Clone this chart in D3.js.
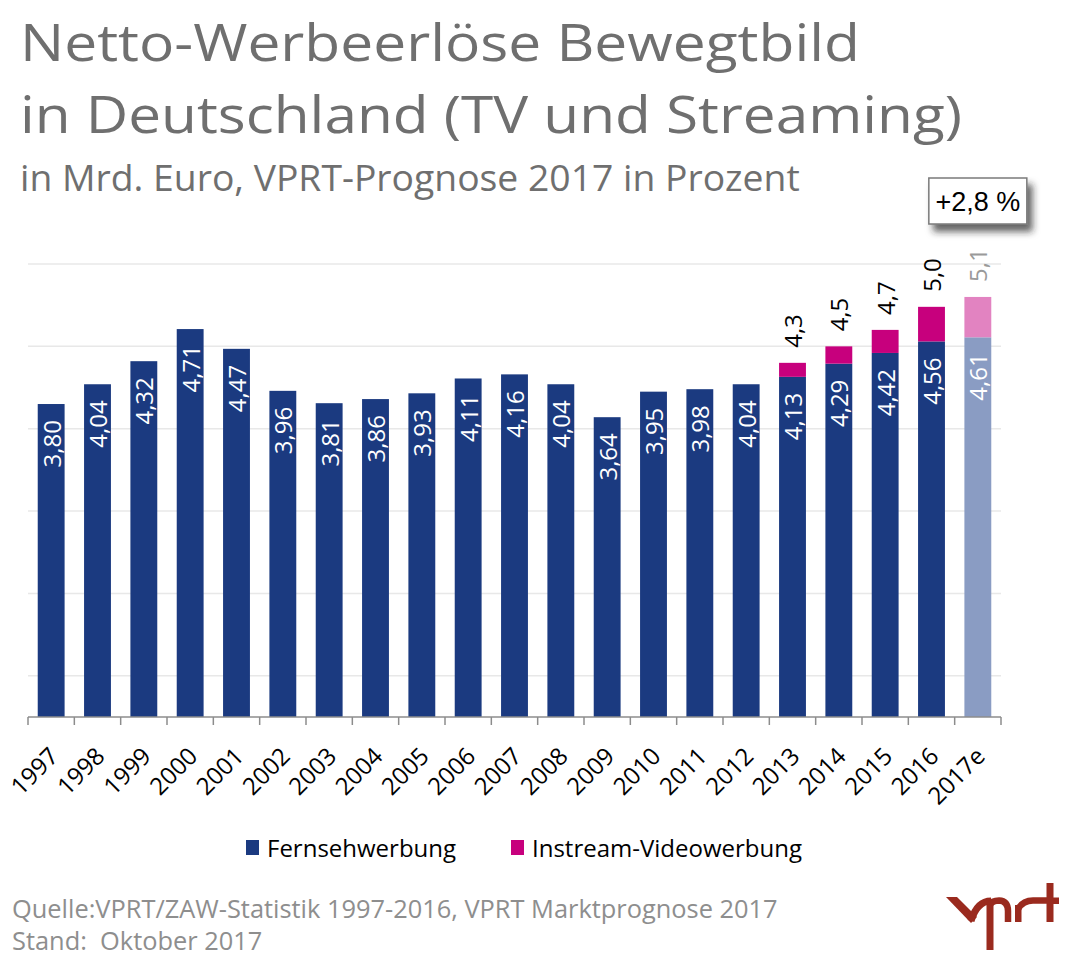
<!DOCTYPE html>
<html>
<head>
<meta charset="utf-8">
<script src="https://cdn.jsdelivr.net/npm/d3@7"></script>
<style>
  html, body { margin: 0; padding: 0; background: #fff; }
  svg { display: block; font-family: "Open Sans", "DejaVu Sans", sans-serif; }
</style>
</head>
<body>
<svg id="chart" width="1071" height="962"></svg>
<script>
// ---- data ----
const years = ['1997','1998','1999','2000','2001','2002','2003','2004','2005','2006','2007',
               '2008','2009','2010','2011','2012','2013','2014','2015','2016','2017e'];
const fernsehwerbung = [3.80,4.04,4.32,4.71,4.47,3.96,3.81,3.86,3.93,4.11,4.16,
                        4.04,3.64,3.95,3.98,4.04,4.13,4.29,4.42,4.56,4.61];
const instreamVideo = [0,0,0,0,0,0,0,0,0,0,0,0,0,0,0,0,0.17,0.21,0.28,0.42,0.49];
const totalLabels = ['','','','','','','','','','','','','','','','','4,3','4,5','4,7','5,0','5,1'];
const gridValues = [0.5,1.5,2.5,3.5,4.5,5.5];
const seriesNames = ['Fernsehwerbung','Instream-Videowerbung'];
const forecastYear = '2017e';
const forecastChange = '+2,8 %';

const titleLines = ['Netto-Werbeerlöse Bewegtbild','in Deutschland (TV und Streaming)'];
const subtitle = 'in Mrd. Euro, VPRT-Prognose 2017 in Prozent';
const sourceLines = ['Quelle:VPRT/ZAW-Statistik 1997-2016, VPRT Marktprognose 2017','Stand:  Oktober 2017'];

// ---- styles ----
const C = {
  blue: '#1b3a80', pink: '#c7007d',
  blueF: '#8a9cc3', pinkF: '#e283c1',
  grid: '#e8e8e8', axis: '#8c8c8c', title: '#6f6f6f', source: '#8e8e8e', logo: '#9a2a1e'
};

const svg = d3.select('#chart');
const rows = years.map((y,i) => ({year: y, tv: fernsehwerbung[i], video: instreamVideo[i], label: totalLabels[i]}));

const x = d3.scaleBand().domain(years).range([28, 1001]).paddingInner(0.42).paddingOuter(0.21);
const y = d3.scaleLinear().domain([0, 5.5]).range([717, 264]);

function fitSize(node, fs, target) {
  const w = node.getComputedTextLength();
  return fs * target / w;
}

// ---- title ----
svg.append('text').attr('x', 20).attr('y', 61).attr('font-size', 52).attr('fill', C.title)
  .attr('textLength', 840).attr('lengthAdjust', 'spacingAndGlyphs').text(titleLines[0]);
svg.append('text').attr('x', 20).attr('y', 133).attr('font-size', 52).attr('fill', C.title)
  .attr('textLength', 942).attr('lengthAdjust', 'spacingAndGlyphs').text(titleLines[1]);
const st = svg.append('text').attr('x', 20).attr('y', 191).attr('font-size', 28).attr('fill', C.title).text(subtitle);
st.attr('font-size', fitSize(st.node(), 28, 780).toFixed(2));

// ---- grid ----
svg.append('g').selectAll('line').data(gridValues).join('line')
  .attr('x1', 28).attr('x2', 1001)
  .attr('y1', d => y(d)).attr('y2', d => y(d))
  .attr('stroke', C.grid).attr('stroke-width', 1.5);

// ---- bars ----
const isF = d => d.year === forecastYear;
const bars = svg.append('g');
bars.selectAll('rect.tv').data(rows).join('rect').attr('class','tv')
  .attr('x', d => x(d.year)).attr('width', x.bandwidth())
  .attr('y', d => y(d.tv)).attr('height', d => y(0) - y(d.tv))
  .attr('fill', d => isF(d) ? C.blueF : C.blue);
bars.selectAll('rect.vid').data(rows.filter(d => d.video > 0)).join('rect').attr('class','vid')
  .attr('x', d => x(d.year)).attr('width', x.bandwidth())
  .attr('y', d => y(d.tv + d.video)).attr('height', d => y(d.tv) - y(d.tv + d.video))
  .attr('fill', d => isF(d) ? C.pinkF : C.pink);

// inside labels
const fmt2 = v => v.toFixed(2).replace('.', ',');
svg.append('g').selectAll('text').data(rows).join('text')
  .attr('transform', d => `translate(${x(d.year) + x.bandwidth()/2},${y(d.tv) + 16}) rotate(-90)`)
  .attr('text-anchor', 'end').attr('dominant-baseline', 'central')
  .attr('font-size', 24).attr('fill', '#fff')
  .text(d => fmt2(d.tv));

// total labels
svg.append('g').selectAll('text').data(rows.filter(d => d.label)).join('text')
  .attr('transform', d => `translate(${x(d.year) + x.bandwidth()/2},${y(d.tv + d.video) - 15}) rotate(-90)`)
  .attr('text-anchor', 'start').attr('dominant-baseline', 'central')
  .attr('font-size', 24).attr('fill', d => isF(d) ? '#9a9a9a' : '#000')
  .text(d => d.label);

// ---- axis ----
const step = x.step();
const x0 = x.range()[0];
const ax = svg.append('g');
ax.append('line').attr('x1', x0).attr('x2', x.range()[1]).attr('y1', y(0)).attr('y2', y(0))
  .attr('stroke', C.axis).attr('stroke-width', 1.5);
ax.selectAll('line.tick').data(d3.range(years.length + 1)).join('line').attr('class','tick')
  .attr('x1', i => x0 + i*step).attr('x2', i => x0 + i*step)
  .attr('y1', y(0)).attr('y2', y(0) + 8)
  .attr('stroke', C.axis).attr('stroke-width', 1.5);
ax.selectAll('text').data(years).join('text')
  .attr('transform', d => `translate(${x(d) + x.bandwidth()/2 + 2},${y(0) + 34}) rotate(-45)`)
  .attr('text-anchor', 'end').attr('dominant-baseline', 'central')
  .attr('font-size', 24).attr('fill', '#000')
  .text(d => d);

// ---- forecast box ----
const defs = svg.append('defs');
const f = defs.append('filter').attr('id','shadow').attr('x','-20%').attr('y','-20%').attr('width','150%').attr('height','180%');
f.append('feDropShadow').attr('dx', 5).attr('dy', 7).attr('stdDeviation', 3.5)
  .attr('flood-color', '#222').attr('flood-opacity', 0.7);
const bx = x(forecastYear) + x.bandwidth()/2;
svg.append('rect').attr('x', bx - 49).attr('y', 178).attr('width', 98).attr('height', 46)
  .attr('fill', '#fff').attr('stroke', '#7a7a7a').attr('stroke-width', 1.5).attr('filter', 'url(#shadow)');
svg.append('text').attr('x', bx).attr('y', 202).attr('text-anchor','middle').attr('dominant-baseline','central')
  .attr('font-family', '"Liberation Sans", Arial, sans-serif')
  .attr('font-size', 27).attr('fill', '#000').text(forecastChange);

// ---- legend ----
const legend = svg.append('g');
const legItems = [{name: seriesNames[0], color: C.blue, x: 246}, {name: seriesNames[1], color: C.pink, x: 511}];
legend.selectAll('rect').data(legItems).join('rect')
  .attr('x', d => d.x).attr('y', 840).attr('width', 13).attr('height', 15).attr('fill', d => d.color);
legend.selectAll('text').data(legItems).join('text')
  .attr('x', d => d.x + 21).attr('y', 857).attr('font-size', 24).attr('fill', '#000')
  .text(d => d.name);

// ---- source ----
const s1 = svg.append('text').attr('x', 12).attr('y', 918).attr('font-size', 26).attr('fill', C.source)
  .style('white-space','pre').text(sourceLines[0]);
s1.attr('font-size', fitSize(s1.node(), 26, 766).toFixed(2));
const s2 = svg.append('text').attr('x', 12).attr('y', 950).attr('font-size', s1.attr('font-size')).attr('fill', C.source)
  .style('white-space','pre').text(sourceLines[1]);

// ---- logo (vprt) ----
const logo = svg.append('g');
logo.append('path').attr('fill', C.logo).attr('d', 'M946,897 L957,897 L977,917 L971,923 Z');
logo.append('path').attr('fill','none').attr('stroke', C.logo).attr('stroke-width', 7)
  .attr('d', 'M971,921 Q977,901 991,901');
logo.append('rect').attr('fill', C.logo).attr('x', 986.5).attr('y', 899).attr('width', 7).attr('height', 51);
logo.append('path').attr('fill','none').attr('stroke', C.logo).attr('stroke-width', 6.5)
  .attr('d', 'M990,905 Q992,900.5 999,900.5 Q1008,901 1008,911 L1008,922');
logo.append('rect').attr('fill', C.logo).attr('x', 1015).attr('y', 905).attr('width', 6.5).attr('height', 17);
logo.append('path').attr('fill','none').attr('stroke', C.logo).attr('stroke-width', 6.5)
  .attr('d', 'M1018,909 Q1023,900.5 1033,900.5 L1050,900.5');
logo.append('rect').attr('fill', C.logo).attr('x', 1046.5).attr('y', 883).attr('width', 7).attr('height', 39);
logo.append('rect').attr('fill', C.logo).attr('x', 1053).attr('y', 897.5).attr('width', 6).attr('height', 6.5);
</script>
</body>
</html>
